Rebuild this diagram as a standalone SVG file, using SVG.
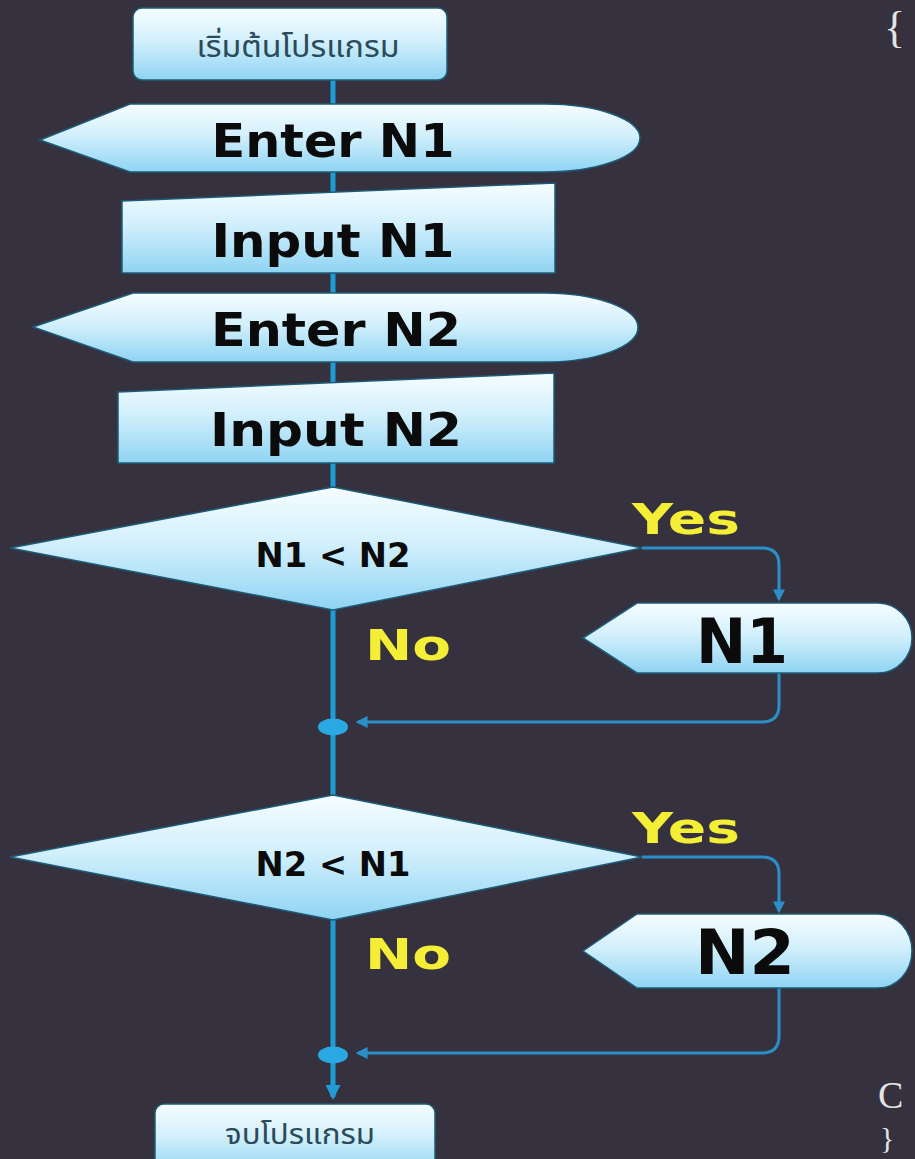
<svg xmlns="http://www.w3.org/2000/svg" width="915" height="1159" viewBox="0 0 915 1159">
  <defs>
    <linearGradient id="fillSky" x1="0" y1="0" x2="0" y2="1">
      <stop offset="0" stop-color="#f6fdff"/>
      <stop offset="0.45" stop-color="#d3f0fc"/>
      <stop offset="1" stop-color="#8fd4f3"/>
    </linearGradient>
    <marker id="arrowMain" viewBox="0 0 10 10" refX="8" refY="5" markerWidth="3" markerHeight="3" orient="auto">
      <path d="M0,0 L10,5 L0,10 Z" fill="#1f9bd6"/>
    </marker>
    <marker id="arrowBranch" viewBox="0 0 10 10" refX="8" refY="5" markerWidth="4" markerHeight="4" orient="auto">
      <path d="M0,0 L10,5 L0,10 Z" fill="#2a8fc6"/>
    </marker>
  </defs>
  <style>
    .shape { fill: url(#fillSky); stroke: #1d5c77; stroke-width: 1.5; }
    .thai { font-family: "Noto Sans Thai", "Loma", "Garuda", "Tahoma", "DejaVu Sans", sans-serif; fill: #2b4a5a; text-anchor: middle; }
    .big { font-family: "DejaVu Sans", "Liberation Sans", sans-serif; font-weight: bold; fill: #0b0b0b; text-anchor: middle; }
    .label { font-family: "DejaVu Sans", "Liberation Sans", sans-serif; font-weight: bold; font-size: 42px; fill: #f4ee36; }
    .main { fill: none; stroke: #1f9bd6; stroke-width: 5; }
    .branch { fill: none; stroke: #2a8fc6; stroke-width: 3; }
    .dot { fill: #2aa8e2; }
    .code { font-family: "Liberation Serif", "DejaVu Serif", serif; fill: #e4e4e4; }
  </style>

  <rect x="0" y="0" width="915" height="1159" fill="#35313e"/>

  <!-- flow lines -->
  <g id="connectors">
    <path class="main" d="M333,80 V104"/>
    <path class="main" d="M333,172 V192"/>
    <path class="main" d="M333,273 V293"/>
    <path class="main" d="M333,362 V383"/>
    <path class="main" d="M333,463 V487"/>
    <path class="main" d="M333,610 V795"/>
    <path class="main" d="M333,920 V1097" marker-end="url(#arrowMain)"/>
    <path class="branch" d="M642,548 H762 Q779,548 779,565 V599" marker-end="url(#arrowBranch)"/>
    <path class="branch" d="M779,672 V705 Q779,722 762,722 H358" marker-end="url(#arrowBranch)"/>
    <path class="branch" d="M642,857 H762 Q779,857 779,874 V911" marker-end="url(#arrowBranch)"/>
    <path class="branch" d="M779,988 V1036 Q779,1053 762,1053 H358" marker-end="url(#arrowBranch)"/>
    <ellipse class="dot" cx="333" cy="727" rx="15" ry="8.5"/>
    <ellipse class="dot" cx="333" cy="1055" rx="15" ry="8.5"/>
  </g>

  <g id="start">
    <rect class="shape" x="133" y="8" width="314" height="72" rx="9"/>
    <text class="thai" x="298" y="57" font-size="31" textLength="203" lengthAdjust="spacingAndGlyphs">เริ่มต้นโปรแกรม</text>
  </g>

  <g id="enter-n1">
    <path class="shape" d="M40,140 L130,104 L545,104 A95,34 0 0 1 545,172 L130,172 Z"/>
    <text class="big" x="333" y="157" font-size="47" textLength="243" lengthAdjust="spacingAndGlyphs">Enter N1</text>
  </g>

  <g id="input-n1">
    <path class="shape" d="M122,201 L555,183 L555,273 L122,273 Z"/>
    <text class="big" x="333" y="257" font-size="47" textLength="243" lengthAdjust="spacingAndGlyphs">Input N1</text>
  </g>

  <g id="enter-n2">
    <path class="shape" d="M33,327 L133,293 L545,293 A93,34.5 0 0 1 545,362 L133,362 Z"/>
    <text class="big" x="336" y="346" font-size="47" textLength="250" lengthAdjust="spacingAndGlyphs">Enter N2</text>
  </g>

  <g id="input-n2">
    <path class="shape" d="M118,392 L554,373 L554,463 L118,463 Z"/>
    <text class="big" x="336" y="446" font-size="47" textLength="252" lengthAdjust="spacingAndGlyphs">Input N2</text>
  </g>

  <g id="check-n1-lt-n2">
    <path class="shape" d="M333,487 L642,548 L333,610 L10,548 Z"/>
    <text class="big" x="333" y="567" font-size="34" textLength="155" lengthAdjust="spacingAndGlyphs">N1 &lt; N2</text>
    <text class="label" x="632" y="534" textLength="108" lengthAdjust="spacingAndGlyphs">Yes</text>
    <text class="label" x="365" y="660" textLength="86" lengthAdjust="spacingAndGlyphs">No</text>
  </g>

  <g id="show-n1">
    <path class="shape" d="M583,638 L637,603 L878,603 A34,35 0 0 1 878,673 L637,673 Z"/>
    <text class="big" x="742" y="663" font-size="62" textLength="92" lengthAdjust="spacingAndGlyphs">N1</text>
  </g>

  <g id="check-n2-lt-n1">
    <path class="shape" d="M333,795 L642,857 L333,920 L10,857 Z"/>
    <text class="big" x="333" y="876" font-size="34" textLength="155" lengthAdjust="spacingAndGlyphs">N2 &lt; N1</text>
    <text class="label" x="632" y="843" textLength="108" lengthAdjust="spacingAndGlyphs">Yes</text>
    <text class="label" x="365" y="969" textLength="86" lengthAdjust="spacingAndGlyphs">No</text>
  </g>

  <g id="show-n2">
    <path class="shape" d="M583,951 L637,914 L878,914 A34,37 0 0 1 878,988 L637,988 Z"/>
    <text class="big" x="745" y="974" font-size="62" textLength="100" lengthAdjust="spacingAndGlyphs">N2</text>
  </g>

  <g id="end">
    <rect class="shape" x="155" y="1104" width="280" height="70" rx="9"/>
    <text class="thai" x="300" y="1144" font-size="28" textLength="150" lengthAdjust="spacingAndGlyphs">จบโปรแกรม</text>
  </g>

  <!-- code characters at the right edge -->
  <g id="code-edge">
    <text class="code" x="884" y="42" font-size="44">{</text>
    <text class="code" x="878" y="1108" font-size="38">C</text>
    <text class="code" x="880" y="1148" font-size="30">}</text>
  </g>
</svg>
